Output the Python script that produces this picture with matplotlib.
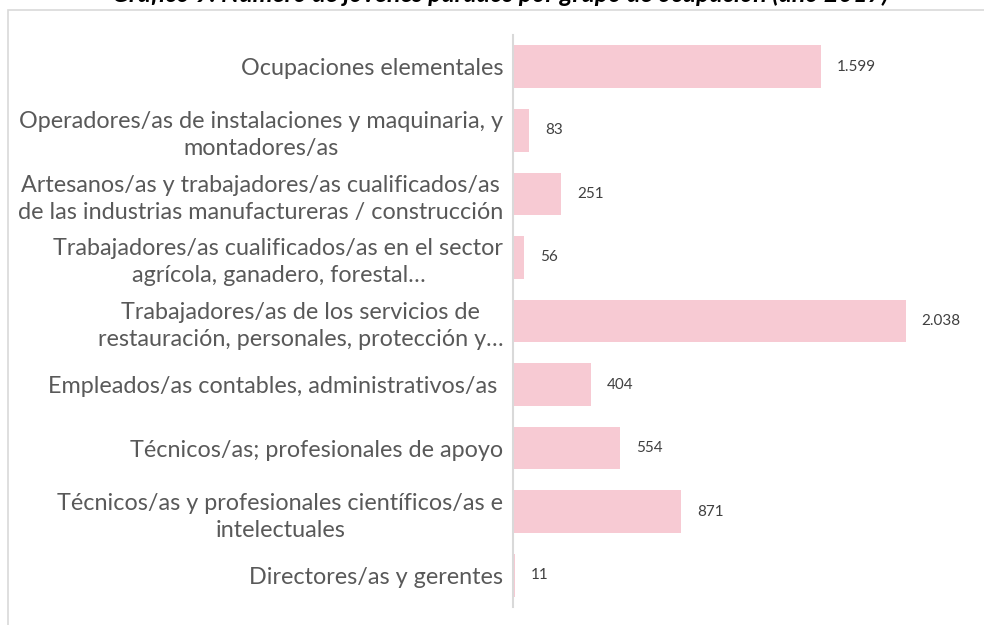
import matplotlib
matplotlib.use("Agg")
from matplotlib import pyplot as plt
from matplotlib.patches import Rectangle

# Categories from bottom to top (as drawn)
categorias = [
    "Directores/as y gerentes",
    "Técnicos/as y profesionales científicos/as e\nintelectuales",
    "Técnicos/as; profesionales de apoyo",
    "Empleados/as contables, administrativos/as ",
    "Trabajadores/as de los servicios de\nrestauración, personales, protección y…",
    "Trabajadores/as cualificados/as en el sector\nagrícola, ganadero, forestal…",
    "Artesanos/as y trabajadores/as cualificados/as\nde las industrias manufactureras / construcción",
    "Operadores/as de instalaciones y maquinaria, y\nmontadores/as",
    "Ocupaciones elementales",
]
valores = [11, 871, 554, 404, 2038, 56, 251, 83, 1599]
etiquetas = ["11", "871", "554", "404", "2.038", "56", "251", "83", "1.599"]

titulo = "Gráfico 9. Número de jóvenes parados por grupo de ocupación (año 2017)"

plt.rcParams['font.family'] = ['Lato', 'DejaVu Sans']

fig = plt.figure(figsize=(9.84, 6.25), dpi=100)
ax = fig.add_axes([513 / 984, 1 - 607 / 625, 457 / 984, 572 / 625])

ypos = list(range(len(categorias)))
ax.barh(ypos, valores, height=0.67, color='#f7cad3')
ax.set_xlim(0, 457 / 0.1926)
ax.set_ylim(-0.5, len(categorias) - 0.5)

for y, v, t in zip(ypos, valores, etiquetas):
    ax.annotate(t, (v, y), xytext=(16, 0), textcoords='offset pixels',
                va='center', ha='left', fontsize=11, color='#404040')

ax.set_yticks(ypos)
ax.set_yticklabels(categorias, fontsize=16.8, color='#595959',
                   multialignment='center', linespacing=1.35)
ax.tick_params(axis='y', length=0, pad=7)
ax.set_xticks([])
for s in ['top', 'right', 'bottom']:
    ax.spines[s].set_visible(False)
ax.spines['left'].set_color('#d9d9d9')
ax.spines['left'].set_linewidth(1.5)

# outer chart frame (cut off at right and bottom)
fig.patches.append(Rectangle((8 / 984, -0.05), 1.0, (625 - 10) / 625 + 0.05,
                             transform=fig.transFigure, fill=False,
                             edgecolor='#d9d9d9', linewidth=1.2))

# title is cropped at the top edge, as in the original picture
fig.text(500 / 984, 1 - 2 / 625, titulo, ha='center', va='baseline',
         fontsize=18, fontweight='bold', fontstyle='italic', color='black')

fig.savefig('out.png', dpi=100)
